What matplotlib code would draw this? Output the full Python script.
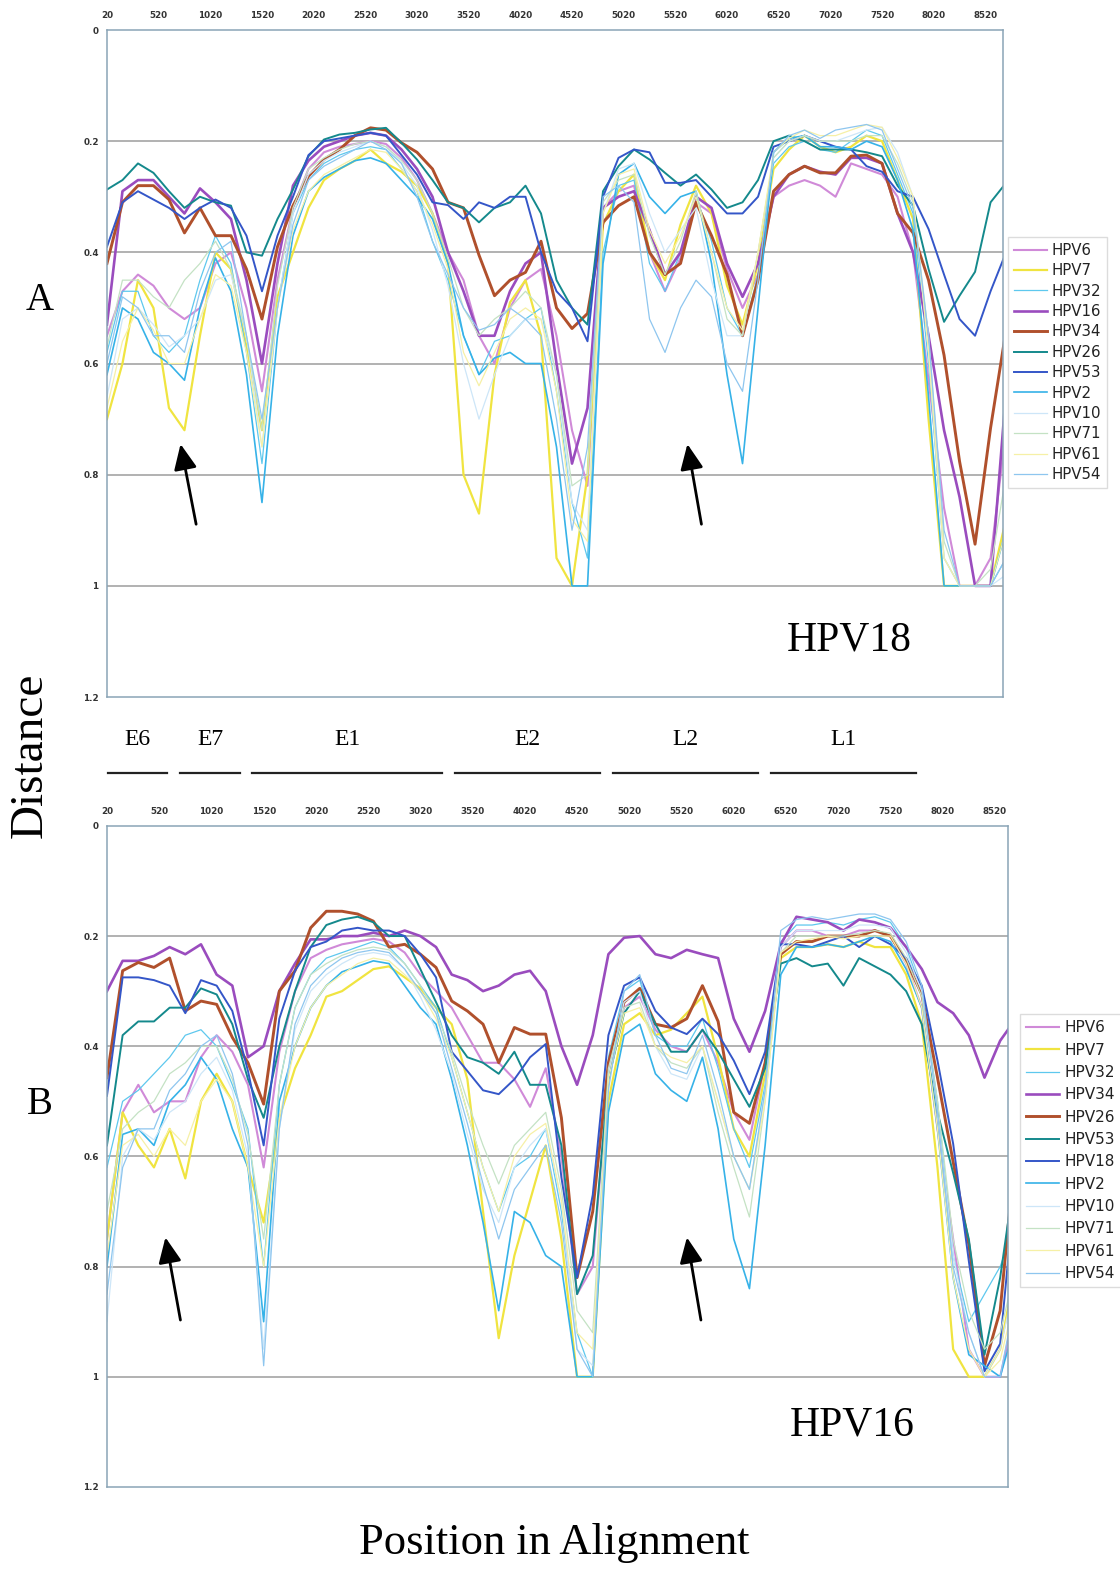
import numpy as np
import matplotlib
matplotlib.use('Agg')
import matplotlib.pyplot as plt

# alignment positions (window centres)
positions = np.arange(20, 8721, 150)

# ---------------- panel A : distances to HPV18 ----------------
a_hpv6 = [0.55,0.47,0.44,0.46,0.50,0.52,0.50,0.42,0.40,0.50,
          0.65,0.45,0.32,0.25,0.22,0.21,0.205,0.20,0.205,0.23,
          0.27,0.33,0.40,0.45,0.55,0.60,0.50,0.45,0.43,0.55,
          0.72,0.82,0.32,0.29,0.28,0.40,0.47,0.41,0.31,0.33,
          0.43,0.50,0.44,0.30,0.28,0.27,0.28,0.30,0.24,0.25,
          0.26,0.30,0.40,0.63,0.86,1.0,1.0,0.95,0.72]
a_hpv7 = [0.70,0.60,0.45,0.50,0.68,0.72,0.55,0.40,0.43,0.57,
          0.72,0.48,0.40,0.32,0.27,0.25,0.235,0.215,0.24,0.255,
          0.28,0.33,0.42,0.80,0.87,0.62,0.49,0.45,0.55,0.95,
          1.0,0.80,0.35,0.29,0.26,0.40,0.45,0.35,0.28,0.33,
          0.46,0.53,0.42,0.25,0.215,0.19,0.21,0.22,0.21,0.19,
          0.20,0.27,0.34,0.70,1.0,1.0,1.0,1.0,0.88]
a_hpv32 = [0.58,0.47,0.47,0.55,0.58,0.55,0.45,0.37,0.42,0.58,
           0.78,0.50,0.33,0.27,0.24,0.225,0.215,0.21,0.215,0.25,
           0.29,0.38,0.45,0.55,0.62,0.56,0.55,0.52,0.50,0.65,
           0.85,0.95,0.40,0.28,0.27,0.42,0.47,0.40,0.30,0.38,
           0.50,0.55,0.44,0.24,0.21,0.20,0.215,0.22,0.20,0.18,
           0.19,0.26,0.33,0.60,0.95,1.0,1.0,1.0,0.95]
a_hpv16 = [0.53,0.29,0.27,0.27,0.30,0.33,0.285,0.31,0.34,0.45,
           0.60,0.42,0.28,0.235,0.21,0.20,0.19,0.185,0.19,0.215,
           0.25,0.30,0.40,0.47,0.55,0.55,0.47,0.42,0.40,0.60,
           0.78,0.68,0.32,0.30,0.29,0.36,0.44,0.40,0.30,0.32,
           0.42,0.48,0.42,0.30,0.26,0.245,0.255,0.26,0.23,0.23,
           0.24,0.33,0.40,0.55,0.72,0.84,1.0,1.0,0.65]
a_hpv34 = [0.42,0.31,0.28,0.28,0.305,0.365,0.32,0.37,0.37,0.43,
           0.52,0.39,0.316,0.263,0.233,0.215,0.19,0.176,0.18,0.203,
           0.22,0.25,0.31,0.32,0.405,0.478,0.45,0.436,0.38,0.50,
           0.537,0.51,0.346,0.316,0.30,0.40,0.44,0.42,0.31,0.37,
           0.44,0.55,0.45,0.29,0.26,0.245,0.257,0.257,0.227,0.225,
           0.24,0.33,0.365,0.45,0.585,0.776,0.925,0.716,0.54]
a_hpv26 = [0.287,0.27,0.24,0.257,0.29,0.32,0.30,0.31,0.316,0.40,
           0.406,0.34,0.287,0.227,0.197,0.188,0.185,0.179,0.176,0.203,
           0.233,0.27,0.31,0.32,0.346,0.32,0.31,0.28,0.33,0.45,
           0.50,0.53,0.29,0.245,0.215,0.233,0.257,0.28,0.26,0.287,
           0.32,0.31,0.27,0.20,0.19,0.20,0.215,0.215,0.215,0.22,
           0.227,0.28,0.316,0.43,0.525,0.478,0.435,0.31,0.275]
a_hpv53 = [0.39,0.31,0.29,0.305,0.32,0.34,0.32,0.305,0.32,0.37,
           0.47,0.37,0.30,0.225,0.20,0.195,0.19,0.185,0.19,0.225,
           0.26,0.31,0.315,0.34,0.31,0.32,0.30,0.30,0.40,0.47,
           0.50,0.56,0.30,0.23,0.215,0.22,0.275,0.275,0.27,0.30,
           0.33,0.33,0.30,0.21,0.20,0.19,0.20,0.21,0.215,0.245,
           0.255,0.29,0.30,0.358,0.44,0.52,0.55,0.47,0.40]
a_hpv2 = [0.62,0.50,0.52,0.58,0.60,0.63,0.50,0.41,0.47,0.62,
          0.85,0.55,0.37,0.29,0.265,0.25,0.235,0.23,0.24,0.27,
          0.30,0.34,0.42,0.55,0.62,0.59,0.58,0.60,0.60,0.75,
          1.0,1.0,0.42,0.26,0.24,0.30,0.33,0.30,0.29,0.42,
          0.62,0.78,0.50,0.22,0.195,0.19,0.21,0.21,0.215,0.20,
          0.21,0.27,0.36,0.66,1.0,1.0,1.0,1.0,0.90]
a_hpv10 = [0.66,0.52,0.50,0.53,0.57,0.55,0.52,0.45,0.44,0.55,
           0.75,0.50,0.33,0.26,0.235,0.22,0.21,0.20,0.21,0.24,
           0.28,0.36,0.46,0.60,0.70,0.62,0.55,0.52,0.52,0.62,
           0.85,0.90,0.33,0.25,0.24,0.33,0.40,0.36,0.32,0.45,
           0.55,0.55,0.40,0.23,0.20,0.19,0.20,0.20,0.19,0.18,
           0.175,0.22,0.30,0.58,0.95,1.0,1.0,1.0,0.98]
a_hpv71 = [0.57,0.45,0.45,0.48,0.50,0.45,0.42,0.38,0.43,0.55,
           0.72,0.46,0.32,0.25,0.23,0.215,0.205,0.20,0.21,0.235,
           0.27,0.33,0.41,0.50,0.55,0.52,0.50,0.47,0.50,0.62,
           0.82,0.80,0.31,0.27,0.26,0.37,0.44,0.38,0.29,0.40,
           0.52,0.55,0.40,0.23,0.20,0.19,0.20,0.20,0.20,0.19,
           0.19,0.24,0.31,0.55,0.92,1.0,1.0,0.97,0.80]
a_hpv61 = [0.68,0.56,0.50,0.54,0.60,0.60,0.52,0.44,0.46,0.58,
           0.75,0.50,0.36,0.29,0.26,0.245,0.23,0.215,0.22,0.25,
           0.29,0.35,0.43,0.58,0.64,0.58,0.52,0.50,0.52,0.65,
           0.88,0.92,0.33,0.26,0.25,0.36,0.42,0.37,0.30,0.40,
           0.50,0.54,0.40,0.22,0.195,0.18,0.19,0.19,0.18,0.17,
           0.175,0.23,0.30,0.58,0.95,1.0,1.0,1.0,0.90]
a_hpv54 = [0.60,0.48,0.50,0.55,0.55,0.58,0.47,0.40,0.38,0.55,
           0.70,0.50,0.35,0.27,0.245,0.23,0.215,0.20,0.215,0.24,
           0.30,0.38,0.44,0.50,0.54,0.53,0.50,0.52,0.55,0.70,
           0.90,0.75,0.30,0.28,0.31,0.52,0.58,0.50,0.45,0.48,
           0.60,0.65,0.45,0.22,0.19,0.18,0.195,0.18,0.175,0.17,
           0.18,0.25,0.32,0.55,0.90,1.0,1.0,1.0,0.95]

# ---------------- panel B : distances to HPV16 ----------------
b_hpv6 = [0.75,0.52,0.47,0.52,0.50,0.50,0.42,0.38,0.41,0.47,
          0.62,0.41,0.30,0.24,0.225,0.215,0.21,0.205,0.21,0.23,
          0.27,0.30,0.33,0.38,0.43,0.43,0.46,0.51,0.44,0.60,
          0.85,0.80,0.45,0.33,0.31,0.37,0.40,0.41,0.37,0.43,
          0.52,0.57,0.43,0.22,0.19,0.19,0.20,0.20,0.19,0.19,
          0.20,0.25,0.33,0.55,0.75,0.95,1.0,1.0,0.87]
b_hpv7 = [0.75,0.52,0.58,0.62,0.55,0.64,0.50,0.45,0.50,0.62,
          0.72,0.53,0.44,0.38,0.31,0.30,0.28,0.26,0.255,0.275,
          0.295,0.33,0.36,0.46,0.70,0.93,0.78,0.68,0.58,0.75,
          1.0,1.0,0.50,0.36,0.34,0.38,0.37,0.34,0.31,0.42,
          0.55,0.60,0.45,0.24,0.22,0.22,0.215,0.22,0.21,0.22,
          0.22,0.27,0.36,0.62,0.95,1.0,1.0,0.95,0.80]
b_hpv32 = [0.62,0.50,0.48,0.45,0.42,0.38,0.37,0.40,0.47,0.55,
           0.80,0.47,0.33,0.27,0.24,0.23,0.22,0.21,0.22,0.25,
           0.29,0.33,0.42,0.52,0.62,0.70,0.62,0.60,0.55,0.70,
           0.92,1.0,0.42,0.30,0.28,0.38,0.40,0.40,0.35,0.44,
           0.55,0.62,0.47,0.21,0.18,0.18,0.175,0.18,0.17,0.165,
           0.175,0.22,0.30,0.50,0.78,0.90,0.85,0.80,0.72]
b_hpv34 = [0.30,0.245,0.245,0.236,0.22,0.233,0.215,0.27,0.29,0.42,
           0.40,0.30,0.25,0.206,0.206,0.20,0.20,0.194,0.20,0.19,
           0.20,0.22,0.27,0.28,0.30,0.29,0.27,0.263,0.30,0.40,
           0.47,0.38,0.233,0.203,0.20,0.233,0.24,0.225,0.233,0.24,
           0.35,0.41,0.336,0.215,0.165,0.17,0.175,0.19,0.17,0.175,
           0.185,0.22,0.26,0.32,0.34,0.38,0.457,0.39,0.35]
b_hpv26 = [0.457,0.263,0.248,0.257,0.24,0.336,0.318,0.324,0.384,0.43,
           0.505,0.30,0.263,0.185,0.155,0.155,0.16,0.173,0.22,0.215,
           0.233,0.257,0.318,0.336,0.36,0.43,0.366,0.378,0.378,0.53,
           0.82,0.70,0.43,0.32,0.295,0.36,0.366,0.35,0.29,0.355,
           0.52,0.54,0.43,0.233,0.21,0.21,0.20,0.20,0.20,0.19,
           0.20,0.245,0.306,0.457,0.61,0.76,0.98,0.88,0.58]
b_hpv53 = [0.58,0.38,0.355,0.355,0.33,0.33,0.295,0.306,0.36,0.46,
           0.53,0.40,0.30,0.22,0.18,0.17,0.165,0.175,0.20,0.20,
           0.26,0.32,0.38,0.42,0.43,0.45,0.41,0.47,0.47,0.58,
           0.85,0.78,0.46,0.34,0.30,0.36,0.41,0.41,0.37,0.41,
           0.46,0.51,0.44,0.25,0.24,0.255,0.25,0.29,0.24,0.255,
           0.27,0.30,0.36,0.52,0.63,0.75,0.96,0.82,0.62]
b_hpv18 = [0.49,0.275,0.275,0.28,0.29,0.34,0.28,0.29,0.336,0.445,
           0.58,0.35,0.263,0.22,0.21,0.19,0.185,0.19,0.19,0.20,
           0.233,0.275,0.41,0.445,0.48,0.487,0.46,0.42,0.396,0.638,
           0.82,0.67,0.38,0.29,0.275,0.336,0.366,0.378,0.35,0.378,
           0.426,0.487,0.41,0.215,0.215,0.22,0.21,0.20,0.22,0.20,
           0.215,0.24,0.29,0.426,0.577,0.79,0.99,0.94,0.64]
b_hpv2 = [0.80,0.56,0.55,0.58,0.50,0.47,0.42,0.46,0.55,0.62,
          0.90,0.50,0.40,0.33,0.29,0.265,0.255,0.245,0.25,0.29,
          0.33,0.36,0.46,0.58,0.72,0.88,0.70,0.72,0.78,0.80,
          1.0,1.0,0.52,0.38,0.36,0.45,0.48,0.50,0.42,0.55,
          0.75,0.84,0.58,0.27,0.22,0.22,0.215,0.22,0.21,0.20,
          0.21,0.26,0.33,0.55,0.82,0.96,0.98,1.0,0.90]
b_hpv10 = [0.90,0.60,0.55,0.57,0.52,0.50,0.45,0.42,0.48,0.60,
           0.95,0.55,0.37,0.30,0.27,0.25,0.235,0.23,0.235,0.26,
           0.31,0.37,0.45,0.56,0.66,0.72,0.62,0.58,0.55,0.68,
           0.95,0.98,0.45,0.32,0.30,0.40,0.45,0.46,0.40,0.50,
           0.60,0.66,0.48,0.22,0.19,0.19,0.19,0.19,0.18,0.18,
           0.185,0.23,0.30,0.52,0.78,0.92,1.0,0.95,0.82]
b_hpv71 = [0.70,0.55,0.52,0.50,0.45,0.43,0.40,0.40,0.46,0.56,
           0.75,0.47,0.33,0.27,0.25,0.235,0.225,0.22,0.225,0.25,
           0.29,0.34,0.41,0.50,0.58,0.65,0.58,0.55,0.52,0.66,
           0.88,0.92,0.44,0.33,0.32,0.40,0.43,0.44,0.40,0.52,
           0.62,0.71,0.50,0.23,0.20,0.20,0.20,0.20,0.195,0.19,
           0.195,0.24,0.31,0.50,0.75,0.88,0.95,0.92,0.80]
b_hpv61 = [0.78,0.58,0.56,0.60,0.55,0.58,0.50,0.46,0.50,0.62,
           0.80,0.53,0.40,0.33,0.29,0.27,0.25,0.24,0.245,0.27,
           0.30,0.35,0.42,0.52,0.62,0.70,0.60,0.56,0.54,0.68,
           0.92,0.95,0.46,0.34,0.33,0.40,0.42,0.43,0.40,0.50,
           0.60,0.66,0.50,0.23,0.21,0.205,0.20,0.205,0.20,0.20,
           0.20,0.25,0.33,0.55,0.82,0.95,1.0,0.97,0.85]
b_hpv54 = [0.85,0.62,0.55,0.55,0.48,0.45,0.40,0.38,0.45,0.58,
           0.98,0.55,0.36,0.29,0.26,0.24,0.23,0.225,0.23,0.26,
           0.30,0.34,0.44,0.54,0.65,0.75,0.66,0.62,0.58,0.72,
           0.95,1.0,0.48,0.30,0.27,0.38,0.44,0.45,0.38,0.48,
           0.60,0.66,0.48,0.19,0.17,0.165,0.17,0.165,0.16,0.16,
           0.17,0.21,0.29,0.52,0.80,0.92,1.0,1.0,0.85]

labels_a = ['HPV6', 'HPV7', 'HPV32', 'HPV16', 'HPV34', 'HPV26',
            'HPV53', 'HPV2', 'HPV10', 'HPV71', 'HPV61', 'HPV54']
series_a = [a_hpv6, a_hpv7, a_hpv32, a_hpv16, a_hpv34, a_hpv26,
            a_hpv53, a_hpv2, a_hpv10, a_hpv71, a_hpv61, a_hpv54]
labels_b = ['HPV6', 'HPV7', 'HPV32', 'HPV34', 'HPV26', 'HPV53',
            'HPV18', 'HPV2', 'HPV10', 'HPV71', 'HPV61', 'HPV54']
series_b = [b_hpv6, b_hpv7, b_hpv32, b_hpv34, b_hpv26, b_hpv53,
            b_hpv18, b_hpv2, b_hpv10, b_hpv71, b_hpv61, b_hpv54]

# genes drawn between the two panels
gene_names = ['E6', 'E7', 'E1', 'E2', 'L2', 'L1']
gene_start = [30, 727, 1424, 3389, 4918, 6448]
gene_end = [600, 1307, 3263, 4792, 6322, 7852]

colors = ['#d08ad8', '#f0e440', '#5ec8ee', '#9a4cbe', '#b0502c', '#14898c',
          '#3456c8', '#36b2e8', '#cde6f8', '#c4e2c4', '#f6f0a6', '#8ec6ef']
widths = [1.5, 1.6, 0.9, 1.9, 2.1, 1.4, 1.4, 1.2, 0.9, 0.9, 0.9, 0.9]

serif = ['Liberation Serif', 'DejaVu Serif']

fig = plt.figure(figsize=(11.2, 15.71), dpi=100)
ax1 = fig.add_axes([0.0955, 0.5563, 0.800, 0.4246])
ax2 = fig.add_axes([0.0955, 0.0535, 0.8045, 0.4208])


def setup(ax, xmax):
    ax.set_xlim(20, xmax)
    ax.set_ylim(1.2, 0)
    ax.set_xticks(np.arange(20, 8521, 500))
    ax.set_yticks([0, 0.2, 0.4, 0.6, 0.8, 1.0, 1.2])
    ax.set_yticklabels(['0', '0.2', '0.4', '0.6', '0.8', '1', '1.2'])
    ax.xaxis.tick_top()
    ax.tick_params(axis='x', length=0, labelsize=6.3, pad=7, colors='#333333')
    ax.tick_params(axis='y', length=0, labelsize=6.3, pad=6, colors='#333333')
    for lab in ax.get_xticklabels() + ax.get_yticklabels():
        lab.set_fontweight('bold')
    for g in [0.2, 0.4, 0.6, 0.8, 1.0]:
        ax.axhline(g, color='#9c9c9c', lw=1.1, zorder=0)
    for s in ax.spines.values():
        s.set_color('#8aa4b6')
        s.set_linewidth(1.1)


setup(ax1, 8690)
setup(ax2, 8645)

for i in range(12):
    ax1.plot(positions, series_a[i], color=colors[i], lw=widths[i], label=labels_a[i])
    ax2.plot(positions, series_b[i], color=colors[i], lw=widths[i], label=labels_b[i])

leg1 = ax1.legend(loc='upper left', bbox_to_anchor=(1.006, 0.69), fontsize=10.8,
                  fancybox=False, edgecolor='#d4d4d4', handlelength=2.2,
                  labelspacing=0.36, borderpad=0.4, handletextpad=0.3,
                  borderaxespad=0)
leg2 = ax2.legend(loc='upper left', bbox_to_anchor=(1.013, 0.715), fontsize=11,
                  fancybox=False, edgecolor='#d4d4d4', handlelength=2.2,
                  labelspacing=0.48, borderpad=0.4, handletextpad=0.3,
                  borderaxespad=0)
for leg in [leg1, leg2]:
    for t in leg.get_texts():
        t.set_color('#222222')

# gene map under panel A
for name, s, e in zip(gene_names, gene_start, gene_end):
    ax1.plot([s, e], [1.337, 1.337], color='#222222', lw=1.6, clip_on=False)
    ax1.text((s + e) / 2, 1.277, name, ha='center', va='center', fontsize=17,
             family=serif, clip_on=False)

# arrows
arrow_style = '-|>,head_length=0.55,head_width=0.25'
ax1.annotate('', xy=(727, 0.74), xytext=(888, 0.894),
             arrowprops=dict(arrowstyle=arrow_style, color='black', lw=2, mutation_scale=28))
ax1.annotate('', xy=(5632, 0.74), xytext=(5777, 0.894),
             arrowprops=dict(arrowstyle=arrow_style, color='black', lw=2, mutation_scale=28))
ax2.annotate('', xy=(575, 0.742), xytext=(728, 0.902),
             arrowprops=dict(arrowstyle=arrow_style, color='black', lw=2, mutation_scale=28))
ax2.annotate('', xy=(5567, 0.742), xytext=(5710, 0.902),
             arrowprops=dict(arrowstyle=arrow_style, color='black', lw=2, mutation_scale=28))

ax1.text(0.829, 0.085, 'HPV18', transform=ax1.transAxes, ha='center', va='center',
         fontsize=30, family=serif)
ax2.text(0.827, 0.094, 'HPV16', transform=ax2.transAxes, ha='center', va='center',
         fontsize=30, family=serif)

fig.text(40 / 1120, 1 - 300 / 1571, 'A', ha='center', va='center', fontsize=28, family=serif)
fig.text(40 / 1120, 1 - 1105 / 1571, 'B', ha='center', va='center', fontsize=28, family=serif)
fig.text(30 / 1120, 1 - 755 / 1571, 'Distance', rotation=90, ha='center', va='center',
         fontsize=34, family=serif)
fig.text(554 / 1120, 1 - 1543 / 1571, 'Position in Alignment', ha='center', va='center',
         fontsize=32, family=serif)

fig.savefig('out.png', dpi=100)
